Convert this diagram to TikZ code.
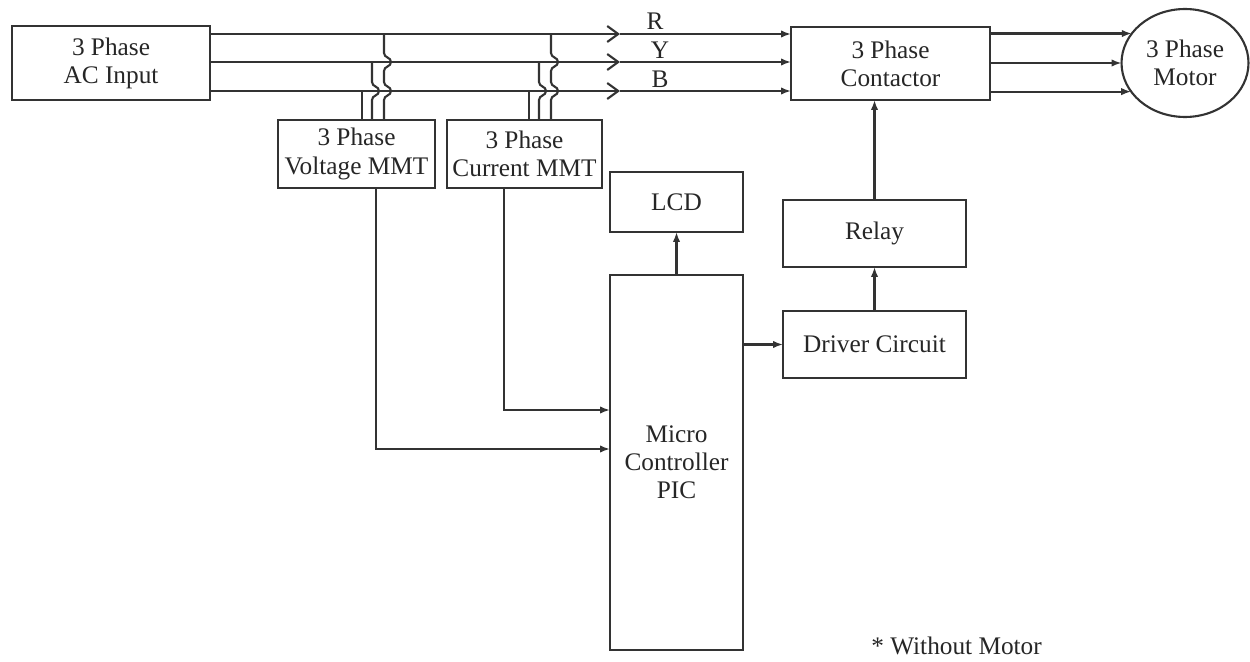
\documentclass[tikz,border=0pt]{standalone}
\usepackage{fontspec}
\setmainfont{Liberation Serif}
\usetikzlibrary{arrows.meta,shapes.geometric}
\begin{document}
\begin{tikzpicture}[x=0.02cm,y=-0.02cm,
  font=\fontsize{14.4}{16}\selectfont,
  blk/.style={draw=black!80,line width=1.2pt,rectangle,inner sep=0pt,outer sep=0pt,align=center,text=black!85},
  lbl/.style={text=black!85,inner sep=0pt},
  wire/.style={draw=black!80,line width=1.2pt},
  arr/.style={wire,-{Latex[length=0.2cm,width=0.15cm]}},
  oarr/.style={wire,-{Straight Barb[length=0.22cm,width=0.32cm]}}]
\useasboundingbox (0,0) rectangle (1250,662);

% blocks
\node[blk,minimum width=3.96cm,minimum height=1.48cm] (ac) at (111,63) {3 Phase\\AC Input};
\node[blk,minimum width=3.14cm,minimum height=1.36cm] (vmmt) at (356.5,154) {3 Phase\\Voltage MMT};
\node[blk,minimum width=3.10cm,minimum height=1.36cm] (cmmt) at (524.5,154) {3 Phase\\Current MMT};
\node[blk,minimum width=2.66cm,minimum height=1.2cm] (lcd) at (676.5,202) {LCD};
\node[blk,minimum width=2.66cm,minimum height=7.5cm] (micro) at (676.5,462.5) {Micro\\Controller\\PIC};
\node[blk,minimum width=3.98cm,minimum height=1.46cm] (cont) at (890.5,63.5) {3 Phase\\Contactor};
\node[blk,ellipse,minimum width=2.54cm,minimum height=2.16cm] (motor) at (1185,63) {3 Phase\\Motor};
\node[blk,minimum width=3.66cm,minimum height=1.34cm] (relay) at (874.5,233.5) {Relay};
\node[blk,minimum width=3.66cm,minimum height=1.34cm] (driver) at (874.5,344.5) {Driver Circuit};

% phase lines
\foreach \n/\y in {R/34,Y/62,B/91} {
  \coordinate (mid\n) at (620,\y);
  \draw[oarr] (ac.east |- mid\n) -- (mid\n);
  \draw[arr] (mid\n) -- (cont.west |- mid\n);
}
\node[lbl] (lR) at (655,21) {R};
\node[lbl] (lY) at (660,50) {Y};
\node[lbl] (lB) at (660,79) {B};

% contactor to motor
\draw[arr] (cont.east |- motor.151.6) -- (motor.151.6);
\draw[arr] (cont.east |- motor.180) -- (motor.180);
\draw[arr] (cont.east |- motor.208.4) -- (motor.208.4);

% measurement taps with hops
\foreach \dx/\m in {0/vmmt,167/cmmt} {
  \draw[wire] (362+\dx,91) -- (362+\dx,91 |- \m.north);
  \draw[wire] (372+\dx,62) -- (372+\dx,82)
     .. controls (372+\dx,87) and (379+\dx,86) .. (379+\dx,91)
     .. controls (379+\dx,96) and (372+\dx,95) .. (372+\dx,100)
     -- (372+\dx,100 |- \m.north);
  \draw[wire] (384+\dx,34) -- (384+\dx,53)
     .. controls (384+\dx,58) and (391+\dx,57) .. (391+\dx,62)
     .. controls (391+\dx,67) and (384+\dx,66) .. (384+\dx,71)
     -- (384+\dx,82)
     .. controls (384+\dx,87) and (391+\dx,86) .. (391+\dx,91)
     .. controls (391+\dx,96) and (384+\dx,95) .. (384+\dx,100)
     -- (384+\dx,100 |- \m.north);
}

% signals to micro
\draw[arr] (376,0 |- vmmt.south) |- (micro.west |- 0,449);
\draw[arr] (504,0 |- cmmt.south) |- (micro.west |- 0,410);
\draw[arr] (micro.north) -- (lcd.south);
\draw[arr] (micro.east |- driver.west) -- (driver.west);
\draw[arr] (driver.north) -- (relay.south);
\draw[arr] (relay.north) -- (relay.north |- cont.south);

\node[lbl,anchor=west] (fn) at (871,646) {* Without Motor};
\end{tikzpicture}
\end{document}
